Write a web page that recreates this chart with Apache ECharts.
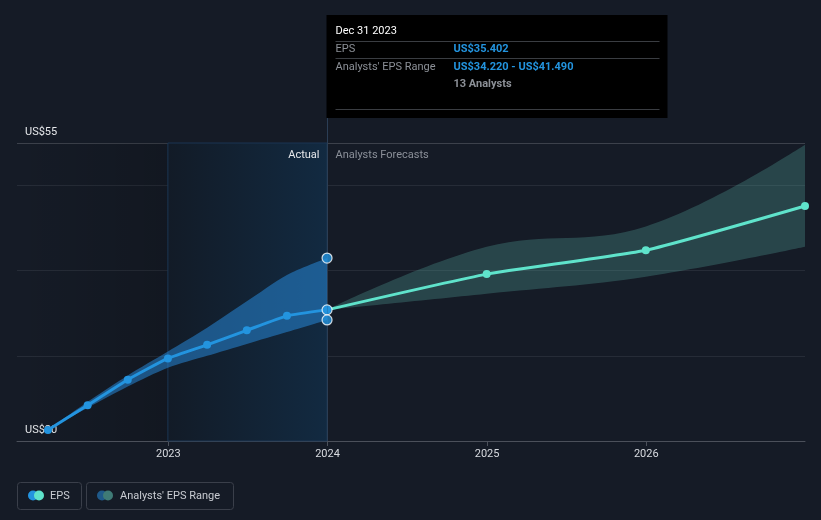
<!DOCTYPE html>
<html>
<head>
<meta charset="utf-8">
<script src="https://cdn.jsdelivr.net/npm/echarts@6/dist/echarts.min.js"></script>
<style>
html,body{margin:0;padding:0;background:#151b26;}
#c{width:821px;height:520px;}
</style>
</head>
<body>
<div id="c"></div>
<script>
// ---- data ----
var actualDates = ['2022-03-31', '2022-06-30', '2022-09-30', '2022-12-31', '2023-03-31', '2023-06-30', '2023-09-30', '2023-12-31'];
var actualEPS = [21.3, 24.2, 27.2, 29.7, 31.3, 33.0, 34.7, 35.402];
var actualLow = [21.3, 23.9, 26.4, 28.6, 30.0, 31.4, 32.8, 34.22];
var actualHigh = [21.3, 24.6, 27.7, 30.5, 33.3, 36.4, 39.5, 41.49];
var forecastDates = ['2023-12-31', '2024-12-31', '2025-12-31', '2026-12-31'];
var forecastEPS = [35.402, 39.6, 42.4, 47.6];
var forecastLow = [35.402, 37.3, 39.3, 42.8];
var forecastHigh = [35.402, 42.8, 45.2, 54.8];
var yTickLabels = [20, 55];
var tipDate = 'Dec 31 2023';
var tipEPS = 35.402, tipLow = 34.220, tipHigh = 41.490, tipAnalysts = 13;

var FONT = 'Roboto, "Noto Sans", sans-serif';
function t(d){ return Date.parse(d + 'T00:00:00Z'); }
function pairs(xs, ys){ return xs.map(function(x,i){ return [t(x), ys[i]]; }); }
function diffs(xs, lo, hi){ return xs.map(function(x,i){ return [t(x), +(hi[i]-lo[i]).toFixed(4)]; }); }
var xMin = t('2022-01-19'), xMax = t('2026-12-31');
var YEAR = 365 * 86400000;

var chart = echarts.init(document.getElementById('c'));
var option = {
  backgroundColor: '#151b26',
  animation: false,
  useUTC: true,
  textStyle: {fontFamily: FONT},
  grid: {left: 17, right: 16, top: 143, bottom: 79},
  xAxis: {
    type: 'time', min: xMin, max: xMax, minInterval: YEAR, splitNumber: 4,
    axisLine: {show: true, lineStyle: {color: '#4b505a', width: 1}},
    axisTick: {show: true, length: 5, lineStyle: {color: '#4b505a'}},
    axisLabel: {color: '#d8dbe0', fontSize: 11, margin: 8, fontFamily: FONT, showMinLabel: false, showMaxLabel: false,
      formatter: function(v){ var d = new Date(v); return (d.getUTCMonth() === 0 && d.getUTCDate() === 1) ? String(d.getUTCFullYear()) : ''; }},
    splitLine: {show: false}
  },
  yAxis: {
    type: 'value', min: 20, max: 55, interval: 10,
    axisLine: {show: false}, axisTick: {show: false},
    axisLabel: {inside: true, color: '#e6e8eb', fontSize: 11, margin: 8,
      verticalAlign: 'bottom', padding: [0,0,5,0], fontFamily: FONT,
      formatter: function(v){ return yTickLabels.indexOf(v) >= 0 ? 'US$' + v : ''; }},
    splitLine: {show: true, lineStyle: {color: ['#262c37','#262c37','#262c37','#262c37','#3c414b'], width: 1}}
  },
  series: [
    {
      type: 'line', name: 'bg', data: [], silent: true,
      markArea: {silent: true, data: [
        [{xAxis: xMin, itemStyle: {color: {type:'linear', x:0, y:0, x2:1, y2:0, colorStops:[{offset:0,color:'rgba(0,0,0,0)'},{offset:1,color:'rgba(0,0,0,0.14)'}]}}}, {xAxis: t('2022-12-31')}],
        [{xAxis: t('2022-12-31'), itemStyle: {borderColor:'#1b3552', borderWidth:1, color: {type:'linear', x:0, y:0, x2:1, y2:0, colorStops:[{offset:0,color:'#121b27'},{offset:1,color:'#122a41'}]}}}, {xAxis: t('2023-12-31')}]
      ]}
    },
    {type: 'line', stack: 'a', data: pairs(actualDates, actualLow), smooth: 0.25, symbol: 'none', lineStyle: {width: 0}, silent: true},
    {type: 'line', stack: 'a', data: diffs(actualDates, actualLow, actualHigh), smooth: 0.25, symbol: 'none', lineStyle: {width: 0},
      areaStyle: {color: 'rgba(40,140,222,0.52)', opacity: 1}, silent: true},
    {type: 'line', stack: 'f', data: pairs(forecastDates, forecastLow), smooth: 0.4, symbol: 'none', lineStyle: {width: 0}, silent: true},
    {type: 'line', stack: 'f', data: diffs(forecastDates, forecastLow, forecastHigh), smooth: 0.4, symbol: 'none', lineStyle: {width: 0},
      areaStyle: {color: 'rgba(85,170,160,0.3)', opacity: 1}, silent: true},
    {type: 'line', name: 'EPS', data: pairs(actualDates, actualEPS), smooth: 0.15, symbol: 'circle', symbolSize: 8,
      lineStyle: {color: '#2394df', width: 3}, itemStyle: {color: '#2394df'}},
    {type: 'line', name: 'EPSF', data: pairs(forecastDates, forecastEPS).map(function(p,i){ return i===0 ? {value:p, symbol:'none'} : p; }),
      smooth: 0.15, symbol: 'circle', symbolSize: 8,
      lineStyle: {color: '#5fe3cb', width: 3}, itemStyle: {color: '#5fe3cb'}},
    {type: 'scatter', data: [[t('2023-12-31'), tipHigh], [t('2023-12-31'), tipEPS], [t('2023-12-31'), tipLow]], symbolSize: 10,
      itemStyle: {color: '#2394df', borderColor: '#ffffff', borderWidth: 1.2}, z: 10}
  ]
};
chart.setOption(option);

var px = chart.convertToPixel({gridIndex: 0}, [t('2023-12-31'), 55]);
var hx = Math.round(px[0]) + 0.5;
var topY = px[1];
var botY = chart.convertToPixel({gridIndex: 0}, [t('2023-12-31'), 20])[1];
var bx = hx - 1;
var g = [];
g.push({type:'line', shape:{x1:hx, y1:15, x2:hx, y2:botY}, style:{stroke:'#2b3e55', lineWidth:1}, z:5});
g.push({type:'text', x: hx - 8, y: topY + 12, style:{text:'Actual', fill:'#e6e8eb', font:'11px '+FONT, align:'right', verticalAlign:'middle'}, z:20});
g.push({type:'text', x: hx + 8, y: topY + 12, style:{text:'Analysts Forecasts', fill:'#8b9099', font:'11px '+FONT, align:'left', verticalAlign:'middle'}, z:20});
var tl = bx + 9, tv = bx + 127;
g.push({type:'rect', shape:{x:bx, y:15, width:341, height:103}, style:{fill:'#000000'}, z:30});
g.push({type:'text', x:tl, y:31, style:{text:tipDate, fill:'#ffffff', font:'11px '+FONT, verticalAlign:'middle'}, z:31});
g.push({type:'line', shape:{x1:tl, y1:41.5, x2:bx+333, y2:41.5}, style:{stroke:'#3a3d42', lineWidth:1}, z:31});
g.push({type:'text', x:tl, y:49.5, style:{text:'EPS', fill:'#8c9097', font:'11px '+FONT, verticalAlign:'middle'}, z:31});
g.push({type:'text', x:tv, y:49.5, style:{text:'US$' + tipEPS.toFixed(3), fill:'#2394df', font:'bold 11px '+FONT, verticalAlign:'middle'}, z:31});
g.push({type:'line', shape:{x1:tl, y1:58.5, x2:bx+333, y2:58.5}, style:{stroke:'#3a3d42', lineWidth:1}, z:31});
g.push({type:'text', x:tl, y:67, style:{text:"Analysts' EPS Range", fill:'#8c9097', font:'11px '+FONT, verticalAlign:'middle'}, z:31});
g.push({type:'text', x:tv, y:67, style:{text:'US$' + tipLow.toFixed(3) + ' - US$' + tipHigh.toFixed(3), fill:'#2394df', font:'bold 11px '+FONT, verticalAlign:'middle'}, z:31});
g.push({type:'text', x:tv, y:84, style:{text:tipAnalysts + ' Analysts', fill:'#8c9097', font:'bold 11px '+FONT, verticalAlign:'middle'}, z:31});
g.push({type:'line', shape:{x1:tl, y1:109.5, x2:bx+333, y2:109.5}, style:{stroke:'#3a3d42', lineWidth:1}, z:31});
g.push({type:'rect', shape:{x:17.5, y:482.5, width:64, height:27, r:3}, style:{fill:'none', stroke:'#3a3f4a', lineWidth:1}, z:20});
g.push({type:'circle', shape:{cx:33, cy:495.5, r:5}, style:{fill:'#2394df'}, z:21});
g.push({type:'circle', shape:{cx:39, cy:495.5, r:5}, style:{fill:'#5fe3cb'}, z:22});
g.push({type:'text', x:50, y:496, style:{text:'EPS', fill:'#c9ccd2', font:'11px '+FONT, verticalAlign:'middle'}, z:21});
g.push({type:'rect', shape:{x:86.5, y:482.5, width:147, height:27, r:3}, style:{fill:'none', stroke:'#3a3f4a', lineWidth:1}, z:20});
g.push({type:'circle', shape:{cx:102, cy:495.5, r:5}, style:{fill:'#1f5a8a'}, z:21});
g.push({type:'circle', shape:{cx:108, cy:495.5, r:5}, style:{fill:'#3f7b76'}, z:22});
g.push({type:'text', x:120, y:496, style:{text:"Analysts' EPS Range", fill:'#c9ccd2', font:'11px '+FONT, verticalAlign:'middle'}, z:21});
chart.setOption({graphic: g});
</script>
</body>
</html>
